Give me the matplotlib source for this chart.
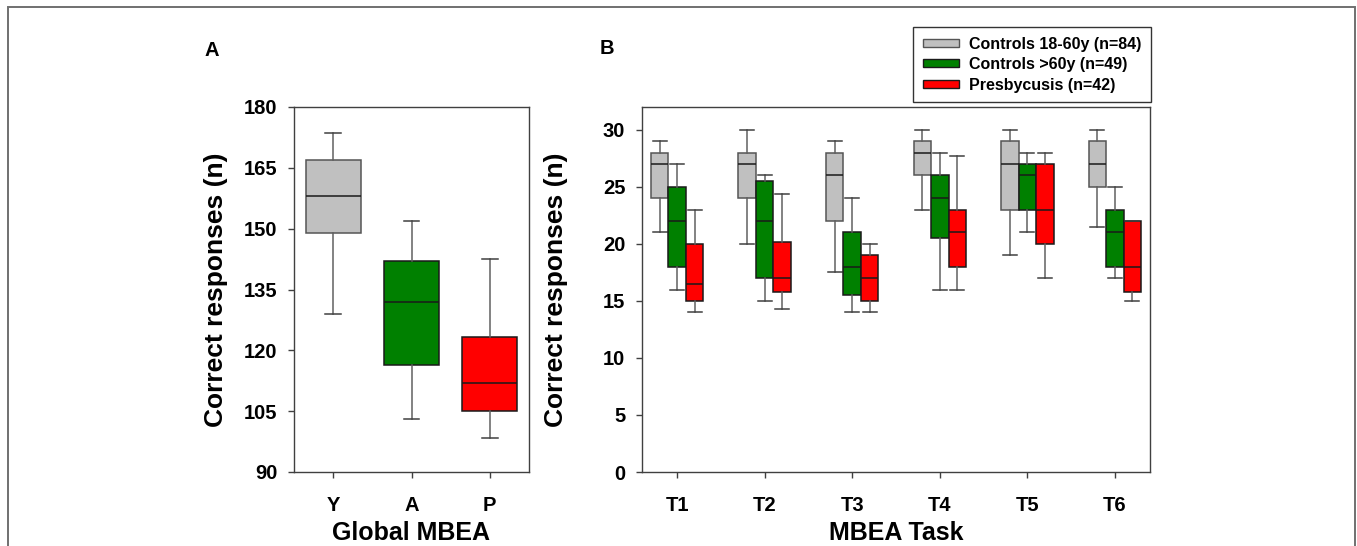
import matplotlib
matplotlib.use("Agg")
import matplotlib.pyplot as plt
from matplotlib.patches import Patch, Rectangle

plt.rcParams["font.family"] = ["Liberation Sans", "DejaVu Sans"]
plt.rcParams["font.weight"] = "bold"

# Panel A : score global MBEA
global_labels = ["Y", "A", "P"]
global_whislo = [129, 103, 98.5]
global_q1 = [149, 116.5, 105]
global_med = [158, 132, 112]
global_q3 = [167, 142, 123.3]
global_whishi = [173.5, 152, 142.5]

# Panel B : par tache
tasks = ["T1", "T2", "T3", "T4", "T5", "T6"]
young_whislo = [21, 20, 17.5, 23, 19, 21.5]
young_q1 = [24, 24, 22, 26, 23, 25]
young_med = [27, 27, 26, 28, 27, 27]
young_q3 = [28, 28, 28, 29, 29, 29]
young_whishi = [29, 30, 29, 30, 30, 30]

old_whislo = [16, 15, 14, 16, 21, 17]
old_q1 = [18, 17, 15.5, 20.5, 23, 18]
old_med = [22, 22, 18, 24, 26, 21]
old_q3 = [25, 25.5, 21, 26, 27, 23]
old_whishi = [27, 26, 24, 28, 28, 25]

presby_whislo = [14, 14.3, 14, 16, 17, 15]
presby_q1 = [15, 15.75, 15, 18, 20, 15.75]
presby_med = [16.5, 17, 17, 21, 23, 18]
presby_q3 = [20, 20.2, 19, 23, 27, 22]
presby_whishi = [23, 24.4, 20, 27.7, 28, 22]

group_names = ["Controls 18-60y (n=84)", "Controls >60y (n=49)", "Presbycusis (n=42)"]
group_colors = ["#C0C0C0", "#008000", "#FF0000"]
group_edges = ["#555555", "#1a1a1a", "#1a1a1a"]

SPINE = "#404040"


def make_stats(whislo, q1, med, q3, whishi):
    return [
        {"whislo": a, "q1": b, "med": c, "q3": d, "whishi": e, "fliers": []}
        for a, b, c, d, e in zip(whislo, q1, med, q3, whishi)
    ]


def draw_boxes(ax, stats, positions, width, capw, face, edge):
    bp = ax.bxp(
        stats, positions=positions, widths=width, capwidths=capw,
        patch_artist=True, showfliers=False, manage_ticks=False,
        boxprops=dict(facecolor=face, edgecolor=edge, linewidth=1.1),
        whiskerprops=dict(color="#606060", linewidth=1.1),
        capprops=dict(color="#404040", linewidth=1.1),
        medianprops=dict(color="#1a1a1a", linewidth=1.1),
    )
    return bp


def style_axes(ax):
    for sp in ax.spines.values():
        sp.set_color(SPINE)
        sp.set_linewidth(1.0)
    ax.tick_params(axis="both", direction="out", length=4, width=1.0,
                   color=SPINE, labelsize=14.5, pad=8)
    ax.tick_params(axis="x", pad=13)
    for lab in ax.get_xticklabels() + ax.get_yticklabels():
        lab.set_fontweight("bold")


fig = plt.figure(figsize=(13.57, 5.46), dpi=100)

# --- Panel A ---
axA = fig.add_axes([294 / 1357, 1 - 472 / 546, 235 / 1357, 365 / 546])
pos_A = [1, 2, 3]
statsA = make_stats(global_whislo, global_q1, global_med, global_q3, global_whishi)
for i in range(3):
    draw_boxes(axA, [statsA[i]], [pos_A[i]], 0.7, 0.2, group_colors[i], group_edges[i])
axA.set_xlim(0.5, 3.5)
axA.set_ylim(90, 180)
axA.set_yticks([90, 105, 120, 135, 150, 165, 180])
axA.set_xticks(pos_A)
axA.set_xticklabels(global_labels)
style_axes(axA)
axA.set_ylabel("Correct responses (n)", fontsize=19, fontweight="bold")
axA.yaxis.set_label_coords(-0.28, 0.5)
axA.set_xlabel("Global MBEA", fontsize=18, fontweight="bold")
axA.xaxis.set_label_coords(0.5, -0.135)
fig.text(212 / 1357, 1 - 51 / 546, "A", fontsize=14.5, fontweight="bold", ha="center", va="center")

# --- Panel B ---
axB = fig.add_axes([642 / 1357, 1 - 472 / 546, 508 / 1357, 365 / 546])
x = list(range(1, len(tasks) + 1))
groups = [
    make_stats(young_whislo, young_q1, young_med, young_q3, young_whishi),
    make_stats(old_whislo, old_q1, old_med, old_q3, old_whishi),
    make_stats(presby_whislo, presby_q1, presby_med, presby_q3, presby_whishi),
]
offsets = [-0.2, 0.0, 0.2]
for g, stats in enumerate(groups):
    draw_boxes(axB, stats, [xi + offsets[g] for xi in x], 0.2, 0.16,
               group_colors[g], group_edges[g])
axB.set_xlim(0.6, 6.4)
axB.set_ylim(0, 32)
axB.set_yticks([0, 5, 10, 15, 20, 25, 30])
axB.set_xticks(x)
axB.set_xticklabels(tasks)
style_axes(axB)
axB.set_ylabel("Correct responses (n)", fontsize=19, fontweight="bold")
axB.yaxis.set_label_coords(-0.146, 0.5)
axB.set_xlabel("MBEA Task", fontsize=18, fontweight="bold")
axB.xaxis.set_label_coords(0.5, -0.135)
fig.text(607 / 1357, 1 - 49 / 546, "B", fontsize=14.5, fontweight="bold", ha="center", va="center")

handles = [Patch(facecolor=c, edgecolor=e, linewidth=1.0)
           for c, e in zip(group_colors, group_edges)]
leg = fig.legend(handles, group_names, loc="upper right",
                 bbox_to_anchor=(1151 / 1357, 1 - 27 / 546),
                 prop={"weight": "bold", "size": 11.5},
                 frameon=True, fancybox=False, edgecolor="black",
                 handlelength=2.3, handleheight=0.4, handletextpad=0.6,
                 labelspacing=0.35, borderpad=0.6, borderaxespad=0)
leg.get_frame().set_linewidth(1.0)

# cadre autour de la figure
fig.add_artist(Rectangle((8 / 1357, -0.05), 1347 / 1357, 1.05 - 7 / 546,
                         transform=fig.transFigure, fill=False,
                         edgecolor="#707070", linewidth=1.4, clip_on=False))

plt.savefig("out.png", dpi=100)
plt.close()
